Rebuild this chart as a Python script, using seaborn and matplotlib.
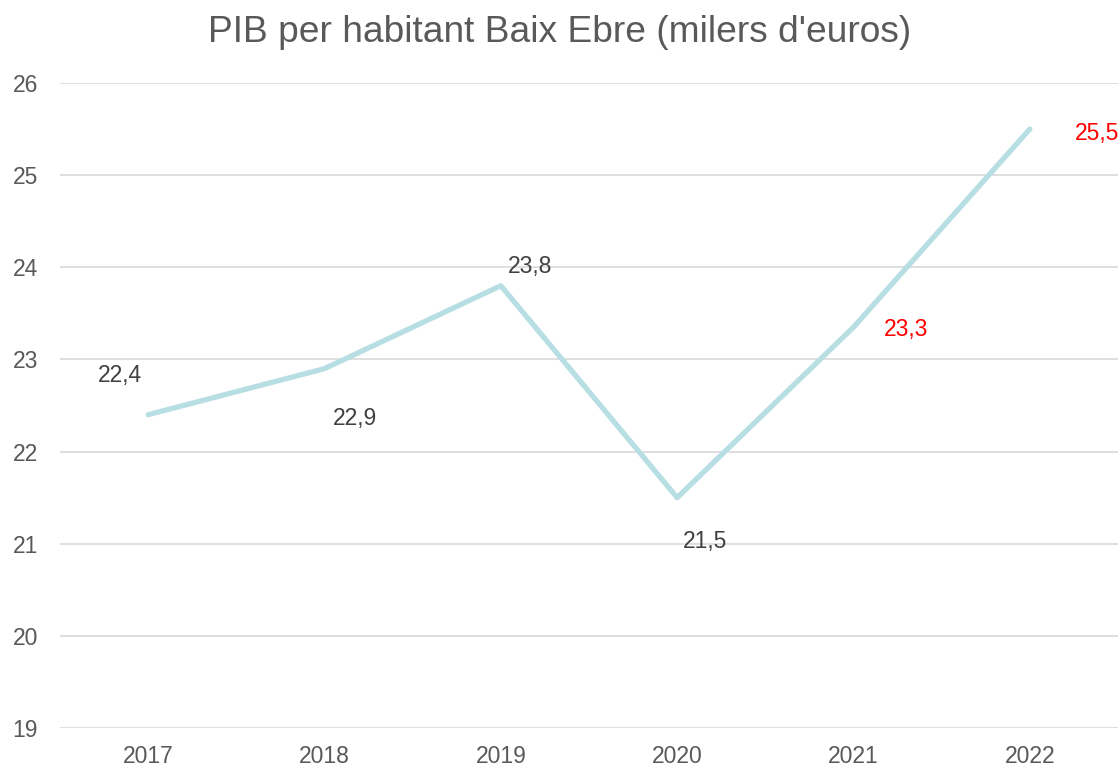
import matplotlib
matplotlib.use("Agg")
import matplotlib.pyplot as plt
import seaborn as sns
import pandas as pd

years = ["2017", "2018", "2019", "2020", "2021", "2022"]
pib = [22.4, 22.9, 23.8, 21.5, 23.35, 25.5]
labels = ["22,4", "22,9", "23,8", "21,5", "23,3", "25,5"]
label_colors = ["#404040", "#404040", "#404040", "#404040", "#ff0000", "#ff0000"]
yticks = [19, 20, 21, 22, 23, 24, 25, 26]
title = "PIB per habitant Baix Ebre (milers d'euros)"

sns.set_theme(style="white")
plt.rcParams["font.family"] = ["Liberation Sans", "DejaVu Sans"]

df = pd.DataFrame({"year": years, "pib": pib})

fig = plt.figure(figsize=(11.2, 7.67), dpi=100)
ax = fig.add_axes([60 / 1120, 1 - 728 / 767, 1058 / 1120, (728 - 83) / 767])

sns.lineplot(data=df, x="year", y="pib", ax=ax, color="#b7dee2", linewidth=3.8,
             solid_capstyle="round", solid_joinstyle="round", sort=False, zorder=3)

ax.set_xlim(-0.5, len(years) - 0.5)
ax.set_ylim(19, 26)
ax.set_yticks(yticks)
ax.set_yticklabels([str(t) for t in yticks])
ax.yaxis.grid(True, color="#d9d9d9", linewidth=1.2)
ax.xaxis.grid(False)
for s in ax.spines.values():
    s.set_visible(False)
ax.tick_params(axis="both", length=0, labelsize=16.5, labelcolor="#595959")
ax.tick_params(axis="y", pad=16)
ax.tick_params(axis="x", pad=12.5)
ax.set_xlabel("")
ax.set_ylabel("")

# label offsets in pixels (dx, dy with y downward)
offsets_px = [(-28, -39), (30, 50), (29, -19), (28, 44), (53, 2), (67, 4)]
for i, (v, lab, c) in enumerate(zip(pib, labels, label_colors)):
    dx, dy = offsets_px[i]
    ax.annotate(lab, (i, v), xytext=(dx * 0.72, -dy * 0.72), textcoords="offset points",
                ha="center", va="center", fontsize=16.5, color=c, annotation_clip=False)

fig.text(0.5, 1 - 33 / 767, title, ha="center", va="center", fontsize=26.7, color="#595959")

fig.savefig("out.png", dpi=100)
